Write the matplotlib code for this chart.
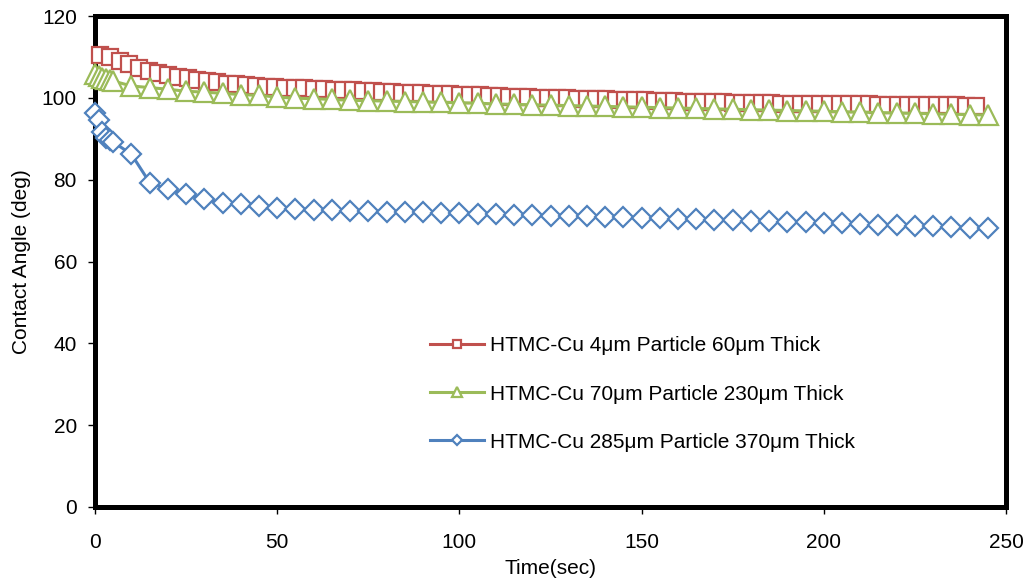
import numpy as np
import matplotlib
matplotlib.use("Agg")
import matplotlib.pyplot as plt

plt.rcParams['font.family'] = ['Liberation Sans', 'DejaVu Sans']

# HTMC-Cu 4um particle, 60um thick (red squares)
red_time = np.round(1.4 + 2.67 * np.arange(91), 2)
red_angle = [110.5, 109.9, 108.9, 108.2, 107.2, 106.6, 106.1, 105.6, 105.2, 104.8,
             104.4, 104.1, 103.8, 103.5, 103.3, 103.1, 102.9, 102.7, 102.6, 102.5,
             102.4, 102.3, 102.2, 102.1, 102.0, 101.9, 101.8, 101.7, 101.6, 101.5,
             101.4, 101.3, 101.2, 101.1, 101.0, 100.95, 100.9, 100.8, 100.7, 100.6,
             100.5, 100.4, 100.3, 100.2, 100.1, 100.0, 99.95, 99.9, 99.85, 99.8,
             99.7, 99.65, 99.6, 99.5, 99.45, 99.4, 99.35, 99.3, 99.2, 99.15,
             99.1, 99.05, 99.0, 98.95, 98.9, 98.85, 98.8, 98.75, 98.7, 98.65,
             98.6, 98.58, 98.55, 98.52, 98.5, 98.47, 98.45, 98.42, 98.4, 98.38,
             98.35, 98.32, 98.3, 98.28, 98.25, 98.22, 98.2, 98.18, 98.15, 98.12, 98.1]

# HTMC-Cu 70um particle, 230um thick (green triangles)
green_time = [0, 1, 2, 3, 4, 5] + list(range(10, 250, 5))
green_angle = [105.9, 105.4, 104.9, 104.6, 104.3, 104.1,
               102.9, 102.5, 102.1, 101.6, 101.4, 101.1, 100.8, 100.6, 100.2, 99.9,
               99.8, 99.6, 99.4, 99.3, 99.2, 99.1, 99.0, 98.9, 98.8, 98.7,
               98.5, 98.4, 98.3, 98.2, 98.1, 98.0, 97.9, 97.8, 97.7, 97.6,
               97.5, 97.4, 97.3, 97.2, 97.1, 97.0, 96.9, 96.8, 96.7, 96.6,
               96.5, 96.4, 96.3, 96.2, 96.1, 96.0, 95.9, 95.8]

# HTMC-Cu 285um particle, 370um thick (blue diamonds)
blue_time = [0, 1, 2, 3, 4, 5] + list(range(10, 250, 5))
blue_angle = [96.2, 94.6, 91.6, 90.3, 89.6, 89.2,
              86.2, 79.3, 77.6, 76.5, 75.2, 74.3, 74.0, 73.6, 73.0, 72.9,
              72.7, 72.6, 72.4, 72.3, 72.2, 72.1, 72.0, 71.9, 71.8, 71.6,
              71.5, 71.4, 71.3, 71.2, 71.1, 71.0, 70.9, 70.8, 70.7, 70.6,
              70.5, 70.3, 70.2, 70.1, 70.0, 69.9, 69.7, 69.6, 69.5, 69.3,
              69.2, 69.0, 68.9, 68.7, 68.6, 68.4, 68.3, 68.1]

labels = ['HTMC-Cu 4μm Particle 60μm Thick',
          'HTMC-Cu 70μm Particle 230μm Thick',
          'HTMC-Cu 285μm Particle 370μm Thick']
colors = ['#C0504D', '#9BBB59', '#4F81BD']

fig = plt.figure(figsize=(10.26, 5.84), dpi=100)
ax = fig.add_axes([95 / 1026, 1 - 507 / 584, 911 / 1026, 491 / 584])

series = [(red_time, red_angle, 's', 12), (green_time, green_angle, '^', 14),
          (blue_time, blue_angle, 'D', 10.5)]
for (t, a, m, ms), c, lab in zip(series, colors, labels):
    ax.plot(t, a, color=c, lw=2.2, marker=m, ms=ms, mfc='white', mec=c,
            mew=1.6, label=lab, clip_on=False, zorder=3)

ax.set_xlim(0, 250)
ax.set_ylim(0, 120)
ax.set_xticks(range(0, 251, 50))
ax.set_yticks(range(0, 121, 20))
ax.tick_params(direction='out', length=5, width=1, labelsize=15)
ax.tick_params(axis='x', pad=14)
ax.tick_params(axis='y', pad=8)
for s in ax.spines.values():
    s.set_linewidth(3.6)

ax.set_xlabel('Time(sec)', fontsize=15, labelpad=5)
ax.set_ylabel('Contact Angle (deg)', fontsize=15, labelpad=8)

leg = ax.legend(loc='center left', bbox_to_anchor=(0.347, 0.23), frameon=False,
                fontsize=15, markerscale=0.5, handlelength=2.6, handletextpad=0.3,
                labelspacing=1.4)

fig.savefig('out.png', dpi=100)
